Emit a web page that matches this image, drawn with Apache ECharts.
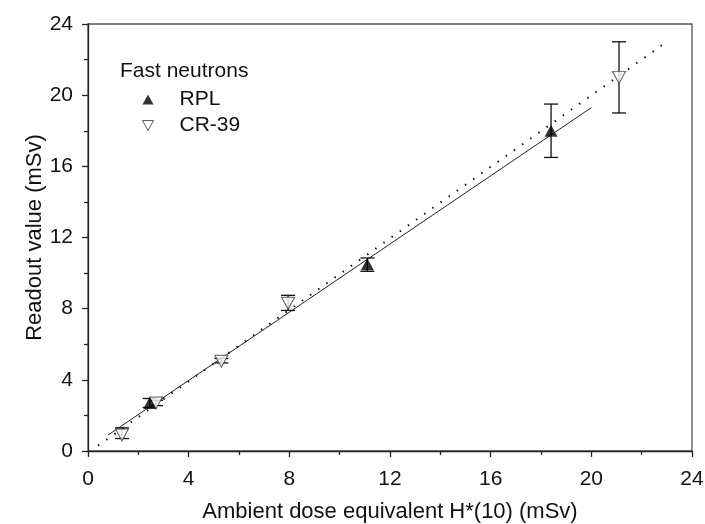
<!DOCTYPE html>
<html><head><meta charset="utf-8">
<script src="https://cdn.jsdelivr.net/npm/echarts@6/dist/echarts.min.js"></script>
<style>html,body{margin:0;padding:0;background:#fff}#c{width:705px;height:524px}</style>
</head><body><div id="c"></div>
<script>
// RPL: [x, y, yLow, yHigh]
const rplX = [2.45, 11.1, 18.4];
const rplY = [2.7, 10.5, 18.0];
const rplLow = [2.45, 10.1, 16.5];
const rplHigh = [2.95, 10.85, 19.5];
// CR-39
const crX = [1.35, 2.7, 5.3, 7.95, 21.1];
const crY = [0.9, 2.7, 5.05, 8.3, 21.0];
const crLow = [0.7, 2.55, 4.95, 7.9, 19.0];
const crHigh = [1.3, 2.85, 5.2, 8.75, 23.0];
// fit lines
const fitX = [0.8, 20.0];
const fitY = [0.9, 19.3];
const idX = [0.4, 22.9];
const idY = [0.3, 22.9];
const ticks = [0, 4, 8, 12, 16, 20, 24];

const font = 'Liberation Sans, Arial, sans-serif';
const chart = echarts.init(document.getElementById('c'));

function errSeries(xs, lo, hi) {
  return {
    type: 'custom', silent: true, z: 3,
    data: xs.map((x, i) => [x, lo[i], hi[i]]),
    renderItem: function (params, api) {
      const a = api.coord([api.value(0), api.value(1)]);
      const b = api.coord([api.value(0), api.value(2)]);
      const w = 7;
      const st = { stroke: '#111', lineWidth: 1.3 };
      return { type: 'group', children: [
        { type: 'line', shape: { x1: a[0], y1: a[1], x2: b[0], y2: b[1] }, style: st },
        { type: 'line', shape: { x1: a[0] - w, y1: a[1], x2: a[0] + w, y2: a[1] }, style: st },
        { type: 'line', shape: { x1: b[0] - w, y1: b[1], x2: b[0] + w, y2: b[1] }, style: st }
      ]};
    }
  };
}

const axisCommon = {
  min: 0, max: 24, interval: 4,
  axisLine: { show: true, onZero: false, lineStyle: { color: '#222', width: 1.3 } },
  axisTick: { show: true, inside: false, length: 6, lineStyle: { color: '#222', width: 1.3 } },
  minorTick: { show: true, splitNumber: 2, length: 4, lineStyle: { color: '#222', width: 1.3 } },
  splitLine: { show: false },
  axisLabel: { color: '#111', fontSize: 21, fontFamily: font, margin: 15,
    formatter: v => ticks.indexOf(v) >= 0 ? String(v) : '' },
  nameTextStyle: { color: '#111', fontSize: 22, fontFamily: font },
  nameMoveOverlap: false
};

chart.setOption({
  animation: false,
  backgroundColor: '#fff',
  title: { text: 'Fast neutrons', left: 115, top: 56, textStyle: { fontSize: 21, fontWeight: 'normal', color: '#111', fontFamily: font } },
  legend: {
    orient: 'vertical', left: 137, top: 84, itemGap: 5, itemWidth: 11, itemHeight: 10,
    textStyle: { fontSize: 21, lineHeight: 16, color: '#111', fontFamily: font, padding: [0, 0, 0, 21] },
    data: [
      { name: 'RPL', icon: 'triangle' },
      { name: 'CR-39', icon: 'path://M0,0 L10,0 L5,9 Z', itemStyle: { color: '#fff', borderColor: '#333', borderWidth: 1 } }
    ]
  },
  grid: { left: 88, right: 13, top: 24, bottom: 73, containLabel: false, outerBoundsMode: 'none',
    show: true, borderColor: '#555', borderWidth: 1.3, backgroundColor: 'transparent' },
  xAxis: Object.assign({}, axisCommon, { type: 'value', name: 'Ambient dose equivalent H*(10) (mSv)', nameLocation: 'middle', nameGap: 50,
    axisLabel: Object.assign({}, axisCommon.axisLabel, { margin: 18 }) }),
  yAxis: Object.assign({}, axisCommon, { type: 'value', name: 'Readout value (mSv)', nameLocation: 'middle', nameGap: 42 }),
  series: [
    { type: 'line', data: fitX.map((x, i) => [x, fitY[i]]), showSymbol: false, symbol: 'none', silent: true,
      lineStyle: { color: '#222', width: 1 }, z: 1 },
    { type: 'line', data: idX.map((x, i) => [x, idY[i]]), showSymbol: false, symbol: 'none', silent: true,
      lineStyle: { color: '#111', width: 2, type: [1.5, 8.5] }, z: 1 },
    errSeries(rplX, rplLow, rplHigh),
    errSeries(crX, crLow, crHigh),
    { name: 'RPL', type: 'scatter', symbol: 'triangle', symbolSize: [13, 12], z: 5,
      itemStyle: { color: '#000' }, data: rplX.map((x, i) => [x, rplY[i]]) },
    { name: 'CR-39', type: 'scatter', symbol: 'path://M0,0 L10,0 L5,9 Z', symbolSize: [13, 12], z: 4,
      itemStyle: { color: '#fff', borderColor: '#333', borderWidth: 1 }, data: crX.map((x, i) => [x, crY[i]]) }
  ]
});
</script></body></html>
